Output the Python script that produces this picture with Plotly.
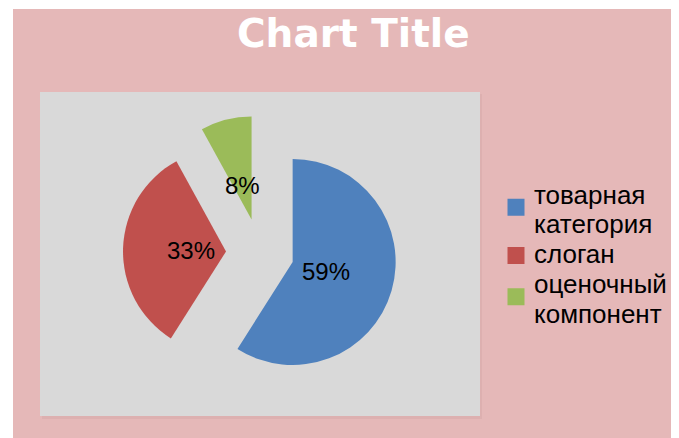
import math
import plotly.graph_objects as go

labels = ["товарная категория", "слоган", "оценочный компонент"]
values = [59, 33, 8]
colors = ["#4F81BD", "#C0504D", "#9BBB59"]
title_text = "Chart Title"

# figure size (page has 8px body margin)
W, H = 671, 430

# pie geometry (figure pixels)
CX, CY = 252.0, 244.5
PULL = 0.33
R = 103.0
HALF = R * (1 + PULL)


def px(x):
    return x / W


def py(y):
    return 1 - y / H


fig = go.Figure()
fig.add_trace(go.Pie(
    labels=labels,
    values=values,
    sort=False,
    direction="clockwise",
    rotation=0,
    pull=[PULL] * len(values),
    marker=dict(colors=colors, line=dict(width=0)),
    textinfo="none",
    showlegend=False,
    domain=dict(x=[px(CX - 150), px(CX + 150)], y=[py(CY + HALF), py(CY - HALF)]),
    hoverinfo="skip",
))

annotations = []
# percentage labels, placed along each slice's mid-angle
total = sum(values)
cum = 0
for v in values:
    mid = (cum + v / 2) / total * 2 * math.pi
    cum += v
    rr = (PULL + 0.34) * R
    lx = CX + rr * math.sin(mid)
    ly = CY - rr * math.cos(mid)
    annotations.append(dict(
        x=px(lx), y=py(ly), xref="paper", yref="paper",
        text=f"{round(v / total * 100)}%", showarrow=False,
        xanchor="center", yanchor="middle",
        font=dict(family="Liberation Sans, Arial", size=24, color="#000000"),
    ))

# legend (manual, to match square size and line spacing)
shapes = [
    dict(type="rect", xref="paper", yref="paper", x0=px(5), x1=1, y0=0, y1=py(1),
         fillcolor="#E5B8B8", line=dict(width=0), layer="below"),
    dict(type="rect", xref="paper", yref="paper", x0=px(34), x1=px(474), y0=py(411), y1=py(86),
         fillcolor="#DDB0B0", line=dict(width=0), layer="below"),
    dict(type="rect", xref="paper", yref="paper", x0=px(32), x1=px(472), y0=py(408), y1=py(84),
         fillcolor="#D9D9D9", line=dict(width=0), layer="below"),
]

LINE = 29.5
GAP = 0.5
y_cursor = 189.0 - 2.3
SQ = 17
for lab, col in zip(labels, colors):
    lines = lab.split(" ")
    ys = []
    for ln in lines:
        annotations.append(dict(
            x=px(524), y=py(y_cursor), xref="paper", yref="paper",
            text=ln, showarrow=False, xanchor="left", yanchor="middle",
            font=dict(family="Liberation Sans, Arial", size=26, color="#000000"),
        ))
        ys.append(y_cursor)
        y_cursor += LINE
    y_cursor += GAP
    sy = (ys[0] + ys[-1]) / 2 + 2.3 - (4.5 if len(ys) > 1 else 1)
    shapes.append(dict(type="rect", xref="paper", yref="paper",
                       x0=px(508 - SQ / 2), x1=px(508 + SQ / 2),
                       y0=py(sy + SQ / 2), y1=py(sy - SQ / 2),
                       fillcolor=col, line=dict(width=0)))

annotations.append(dict(
    x=px(345.5), y=py(25.5), xref="paper", yref="paper",
    text="<b>" + title_text + "</b>", showarrow=False,
    xanchor="center", yanchor="middle",
    font=dict(family="DejaVu Sans", size=39, color="#FFFFFF"),
))

fig.update_layout(
    width=W, height=H,
    margin=dict(l=0, r=0, t=0, b=0),
    paper_bgcolor="#FFFFFF",
    plot_bgcolor="#FFFFFF",
    showlegend=False,
    shapes=shapes,
    annotations=annotations,
)

fig.write_html("out.html")
